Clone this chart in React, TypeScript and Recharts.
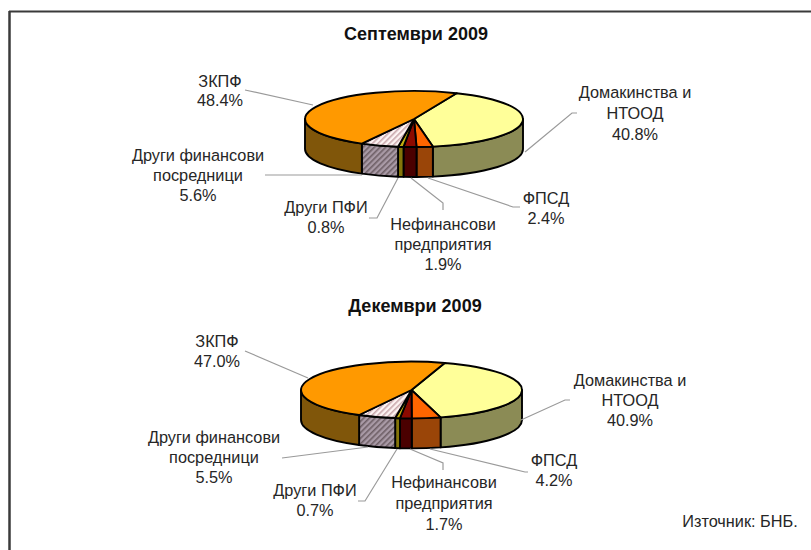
import React from "react";
import { PieChart, Pie } from "recharts";

const categories = ["Домакинства и НТООД", "ФПСД", "Нефинансови предприятия", "Други ПФИ", "Други финансови посредници", "ЗКПФ"];
const sep2009 = [40.8, 2.4, 1.9, 0.8, 5.6, 48.4];
const dec2009 = [40.9, 4.2, 1.7, 0.7, 5.5, 47.0];
const labelLines = [
  ["Домакинства и", "НТООД"],
  ["ФПСД"],
  ["Нефинансови", "предприятия"],
  ["Други ПФИ"],
  ["Други финансови", "посредници"],
  ["ЗКПФ"],
];
const titles = ["Септември 2009", "Декември 2009"];
const source = "Източник: БНБ.";

const topFills = ["#FFFF99", "#FF6600", "#8C0A00", "#C2AE10", "url(#hatchTop)", "#FF9900"];
const wallFills = ["#8B8B55", "#9A4508", "#4A0000", "#85750A", "url(#hatchWall)", "#80560A"];

const RY_RATIO = 28 / 109;
const DEPTH = 30;
const RAD = Math.PI / 180;

type Layout = { x: number; firstY: number; step: number; leader: number[][] };

const layoutSep: Layout[] = [
  { x: 635, firstY: 92, step: 21, leader: [[525, 152], [572, 113], [577, 113]] },
  { x: 546, firstY: 198, step: 20, leader: [[428, 178], [513, 207], [520, 207]] },
  { x: 443, firstY: 224, step: 20, leader: [[411, 178], [443, 203], [443, 210]] },
  { x: 326, firstY: 207, step: 20, leader: [[398, 178], [377, 218], [369, 218]] },
  { x: 198, firstY: 155, step: 20, leader: [[362, 175], [265, 175]] },
  { x: 220, firstY: 81, step: 19, leader: [[313, 105], [245, 90]] },
];
const layoutDec: Layout[] = [
  { x: 630, firstY: 380, step: 20, leader: [[521, 420], [565, 400], [570, 400]] },
  { x: 554, firstY: 460, step: 20, leader: [[430, 449], [525, 472], [528, 472]] },
  { x: 444, firstY: 482, step: 21, leader: [[410, 449], [443, 463], [443, 470]] },
  { x: 315, firstY: 490, step: 20, leader: [[397, 449], [365, 501], [358, 501]] },
  { x: 214, firstY: 437, step: 20, leader: [[368, 447], [282, 458]] },
  { x: 217, firstY: 341, step: 20, leader: [[308, 378], [245, 351]] },
];

const FONT = "'Liberation Sans', Arial, sans-serif";
const TEXT = "#262626";
const LABEL_SIZE = 16.3;
const TITLE_SIZE = 18;

const toRows = (values: number[]) =>
  values.map((value, idx) => ({ name: categories[idx], value, idx }));

function WedgeShape(props: any) {
  const { cx, cy, outerRadius: rx, startAngle, endAngle } = props;
  const idx = props.idx ?? props.payload?.idx ?? 0;
  const ry = rx * RY_RATIO;
  const pt = (a: number, dy = 0) => [cx + rx * Math.cos(a * RAD), cy - ry * Math.sin(a * RAD) + dy];
  const [x0, y0] = pt(startAngle);
  const [x1, y1] = pt(endAngle);
  const large = startAngle - endAngle > 180 ? 1 : 0;
  const top = `M${cx},${cy}L${x0},${y0}A${rx},${ry} 0 ${large} 1 ${x1},${y1}Z`;
  const walls: string[] = [];
  for (const k of [-1, 0, 1]) {
    const hi = Math.min(startAngle, 360 * k);
    const lo = Math.max(endAngle, 360 * k - 180);
    if (hi > lo) {
      const [ax, ay] = pt(hi);
      const [bx, by] = pt(lo);
      const [cx2, cy2] = pt(lo, DEPTH);
      const [dx, dy] = pt(hi, DEPTH);
      walls.push(
        `M${ax},${ay}A${rx},${ry} 0 0 1 ${bx},${by}L${cx2},${cy2}A${rx},${ry} 0 0 0 ${dx},${dy}Z`
      );
    }
  }
  return (
    <g>
      {walls.map((d, i) => (
        <path key={i} d={d} fill={wallFills[idx]} stroke="#000" strokeWidth={1.9} strokeLinejoin="round" />
      ))}
      <path d={top} fill={topFills[idx]} stroke="#000" strokeWidth={1.9} strokeLinejoin="round" />
    </g>
  );
}

const sepOrDec = (layout: Layout[]) => (layout === layoutSep ? sep2009 : dec2009);

const makeLabel = (layout: Layout[]) => (props: any) => {
  const idx = props.index;
  const l = layout[idx];
  const lines = [...labelLines[idx], `${sepOrDec(layout)[idx].toFixed(1)}%`];
  return (
    <g key={idx}>
      <polyline
        points={l.leader.map((p) => p.join(",")).join(" ")}
        fill="none"
        stroke="#9a9a9a"
        strokeWidth={1.2}
      />
      <text textAnchor="middle" fontFamily={FONT} fontSize={LABEL_SIZE} fill={TEXT}>
        {lines.map((t, i) => (
          <tspan key={i} x={l.x} y={l.firstY + i * l.step + 5.5}>
            {t}
          </tspan>
        ))}
      </text>
    </g>
  );
};

export default function App() {
  return (
    <div style={{ position: "absolute", left: 0, top: 0, width: 811, height: 550, background: "#fff" }}>
      <PieChart width={811} height={550} margin={{ top: 0, right: 0, bottom: 0, left: 0 }}>
        <defs>
          <pattern id="hatchTop" width="4" height="4" patternUnits="userSpaceOnUse" patternTransform="rotate(45)">
            <rect width="4" height="4" fill="#fdf3f3" />
            <rect width="1.6" height="4" fill="#c9a8ac" />
          </pattern>
          <pattern id="hatchWall" width="4" height="4" patternUnits="userSpaceOnUse" patternTransform="rotate(45)">
            <rect width="4" height="4" fill="#a99aa6" />
            <rect width="1.6" height="4" fill="#6e5f66" />
          </pattern>
        </defs>
        <line x1={9} y1={11.5} x2={811} y2={11.5} stroke="#3a3a3a" strokeWidth={2} />
        <line x1={9.5} y1={11} x2={9.5} y2={550} stroke="#3a3a3a" strokeWidth={2.5} />
        <Pie
          data={toRows(sep2009)}
          dataKey="value"
          nameKey="name"
          cx={414}
          cy={119}
          outerRadius={109}
          startAngle={67}
          endAngle={-293}
          shape={WedgeShape}
          label={makeLabel(layoutSep)}
          labelLine={false}
          isAnimationActive={false}
        />
        <Pie
          data={toRows(dec2009)}
          dataKey="value"
          nameKey="name"
          cx={411.5}
          cy={390}
          outerRadius={110.5}
          startAngle={72.5}
          endAngle={-287.5}
          shape={WedgeShape}
          label={makeLabel(layoutDec)}
          labelLine={false}
          isAnimationActive={false}
        />
        <text x={416} y={40} textAnchor="middle" fontFamily={FONT} fontSize={TITLE_SIZE} fontWeight="bold" fill="#111">
          {titles[0]}
        </text>
        <text x={415} y={312} textAnchor="middle" fontFamily={FONT} fontSize={TITLE_SIZE} fontWeight="bold" fill="#111">
          {titles[1]}
        </text>
        <text x={740} y={527} textAnchor="middle" fontFamily={FONT} fontSize={LABEL_SIZE} fill={TEXT}>
          {source}
        </text>
      </PieChart>
    </div>
  );
}
